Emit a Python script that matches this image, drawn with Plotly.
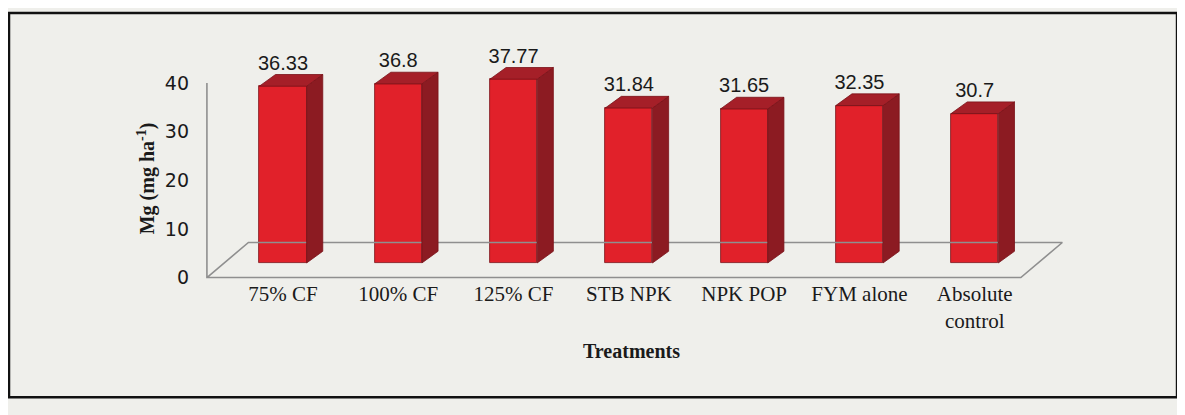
import plotly.graph_objects as go

# ---- data ----
categories = ["75% CF", "100% CF", "125% CF", "STB NPK", "NPK POP", "FYM alone", "Absolute<br>control"]
values = [36.33, 36.8, 37.77, 31.84, 31.65, 32.35, 30.7]
value_labels = ["36.33", "36.8", "37.77", "31.84", "31.65", "32.35", "30.7"]
y_ticks = [0, 10, 20, 30, 40]

# ---- 3D look parameters (style) ----
BASE = 3.0        # bars stand a little behind the front edge of the floor
W = 0.41          # front face width (category units)
DX, DY = 0.14, 2.4  # depth offset of bar (x units, y units)
FDX, FDY = 0.36, 7.2  # floor depth
WALL_X = -0.66
FLOOR_RIGHT = 6.40

FRONT = "#e1212a"
SIDE = "#8c1b22"
TOP = "#a51f28"
EDGE = "#7a1118"
GRID = "#8f8f8f"
BG = "#efefeb"

xs = list(range(len(categories)))
fig = go.Figure()

# floor outline + wall line
fig.add_trace(go.Scatter(
    x=[WALL_X, WALL_X, FLOOR_RIGHT, FLOOR_RIGHT + FDX, WALL_X + FDX, WALL_X],
    y=[y_ticks[-1], 0, 0, FDY, FDY, 0],
    mode="lines", line=dict(color=GRID, width=1.6), hoverinfo="skip", showlegend=False))

# front faces
fig.add_trace(go.Bar(
    x=xs, y=values, base=[BASE] * len(values), width=W,
    marker=dict(color=FRONT, line=dict(color=EDGE, width=0.8)),
    showlegend=False, hoverinfo="skip"))

# side and top faces
for c, v in zip(xs, values):
    r = c + W / 2
    l = c - W / 2
    top = BASE + v
    fig.add_trace(go.Scatter(
        x=[r, r + DX, r + DX, r, r], y=[BASE, BASE + DY, top + DY, top, BASE],
        fill="toself", fillcolor=SIDE, mode="lines", line=dict(color=EDGE, width=0.8),
        hoverinfo="skip", showlegend=False))
    fig.add_trace(go.Scatter(
        x=[l, l + DX, r + DX, r, l], y=[top, top + DY, top + DY, top, top],
        fill="toself", fillcolor=TOP, mode="lines", line=dict(color=EDGE, width=0.8),
        hoverinfo="skip", showlegend=False))

# value labels
fig.add_trace(go.Scatter(
    x=xs, y=[BASE + v + DY for v in values], mode="text", text=value_labels,
    textposition="top center",
    textfont=dict(family="Liberation Sans", size=20, color="#1a1a1a"),
    hoverinfo="skip", showlegend=False))

fig.update_layout(
    width=1185, height=415,
    margin=dict(l=192, r=103, t=36, b=143.5),
    paper_bgcolor=BG, plot_bgcolor=BG,
    bargap=0,
    xaxis=dict(range=[-0.72, 7.0], tickmode="array", tickvals=xs, ticktext=categories,
               showgrid=False, zeroline=False, showline=False, ticks="",
               tickfont=dict(family="Liberation Serif", size=21, color="#1a1a1a")),
    yaxis=dict(range=[-0.3, 48], tickmode="array", tickvals=y_ticks,
               showgrid=False, zeroline=False, showline=False, ticks="",
               ticklabelstandoff=10,
               tickfont=dict(family="DejaVu Sans", size=19, color="#1a1a1a")),
    annotations=[
        dict(text="<b>Treatments</b>", xref="paper", yref="paper", x=0.485, y=-0.308,
             xanchor="center", yanchor="middle", showarrow=False,
             font=dict(family="Liberation Serif", size=20, color="#1a1a1a")),
        dict(text="<b>Mg (mg ha<sup>-1</sup>)</b>", xref="paper", yref="paper", x=-0.06, y=0.427,
             xanchor="center", yanchor="middle",
             textangle=-90, showarrow=False,
             font=dict(family="Liberation Serif", size=20, color="#1a1a1a")),
    ],
    shapes=[
        dict(type="rect", xref="paper", yref="paper", x0=-0.2146, x1=1.0978, y0=-0.503, y1=1.1316,
             line=dict(color="#111111", width=2.5), fillcolor="rgba(0,0,0,0)"),
    ],
)

fig.write_html("out.html")
